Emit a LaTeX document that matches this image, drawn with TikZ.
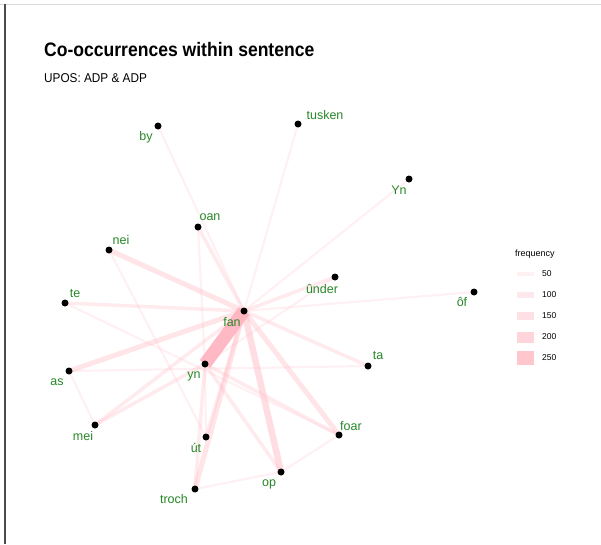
\documentclass[tikz,border=0pt]{standalone}
\usepackage{fontspec}
\setmainfont{Liberation Sans}
\usetikzlibrary{backgrounds}
\definecolor{edgepink}{RGB}{255,182,193}
\definecolor{labgreen}{RGB}{40,135,40}
\begin{document}
\begin{tikzpicture}[x=1pt,y=-1pt,
  dot/.style={circle,fill=black,inner sep=0pt,minimum size=7pt},
  lab/.style={text=labgreen,font=\fontsize{12.5}{12.5}\selectfont,inner sep=0pt},
  wa/.style={draw=edgepink,draw opacity=0.18,line width=2.2pt},
  wb/.style={draw=edgepink,draw opacity=0.27,line width=3.5pt},
  wc/.style={draw=edgepink,draw opacity=0.36,line width=5pt},
  wd/.style={draw=edgepink,draw opacity=0.45,line width=6.5pt},
  we/.style={draw=edgepink,draw opacity=0.95,line width=13pt},
  key/.style={fill=edgepink,inner sep=0pt,minimum width=17pt},
  keylab/.style={font=\fontsize{8.5}{8.5}\selectfont,anchor=west,inner sep=0pt}]
\useasboundingbox (0,0) rectangle (601,544);
% titles
\node[anchor=base west,inner sep=0pt,font=\bfseries\fontsize{19.5}{19.5}\selectfont] (title) at (44,56) {\scalebox{0.9}[1]{Co-occurrences within sentence}};
\node[anchor=base west,inner sep=0pt,font=\fontsize{12.8}{12.8}\selectfont] (subtitle) at (44,82) {\scalebox{0.92}[1]{UPOS: ADP \& ADP}};
% nodes
\node[dot] (by) at (158,126) {};
\node[dot] (tusken) at (298,124) {};
\node[dot] (Yn) at (409,179) {};
\node[dot] (oan) at (198,227) {};
\node[dot] (nei) at (109,250) {};
\node[dot] (te) at (65,303) {};
\node[dot] (under) at (335,277) {};
\node[dot] (of) at (474,292) {};
\node[dot] (fan) at (244,311) {};
\node[dot] (yn) at (205,364) {};
\node[dot] (as) at (69,371) {};
\node[dot] (ta) at (368,366) {};
\node[dot] (mei) at (95,425) {};
\node[dot] (foar) at (339,435) {};
\node[dot] (ut) at (206,437) {};
\node[dot] (op) at (281,472) {};
\node[dot] (troch) at (195,489) {};
% labels
\node[lab] (lby) at (146,137) {by};
\node[lab] (ltusken) at (325,115) {tusken};
\node[lab] (lYn) at (399,190) {Yn};
\node[lab] (loan) at (210,217) {oan};
\node[lab] (lnei) at (121,240) {nei};
\node[lab] (lte) at (75,294) {te};
\node[lab] (lunder) at (322,289) {ûnder};
\node[lab] (lof) at (462,302) {ôf};
\node[lab] (lfan) at (232,322) {fan};
\node[lab] (lyn) at (194,376) {yn};
\node[lab] (las) at (57,382) {as};
\node[lab] (lta) at (378,356) {ta};
\node[lab] (lmei) at (83,436) {mei};
\node[lab] (lfoar) at (351,426) {foar};
\node[lab] (lut) at (196,448) {út};
\node[lab] (lop) at (269,484) {op};
\node[lab] (ltroch) at (174,499) {troch};
% legend
\node[anchor=west,inner sep=0pt,font=\fontsize{9}{9}\selectfont] (legtitle) at (515,254) {frequency};
\node[key,fill opacity=0.2,minimum height=3.5pt] (k1) at (525,274) {};
\node[key,fill opacity=0.3,minimum height=6pt] (k2) at (525,295) {};
\node[key,fill opacity=0.42,minimum height=8pt] (k3) at (525,316) {};
\node[key,fill opacity=0.58,minimum height=11pt] (k4) at (525,337) {};
\node[key,fill opacity=0.78,minimum height=14pt] (k5) at (525,358) {};
\node[keylab] (t1) at (542,274) {50};
\node[keylab] (t2) at (542,295) {100};
\node[keylab] (t3) at (542,316) {150};
\node[keylab] (t4) at (542,337) {200};
\node[keylab] (t5) at (542,358) {250};
% edges and frame
\begin{scope}[on background layer]
\fill[white] (0,0) rectangle (601,544);
\draw[black!15,line width=0.8pt] (0,4) -- (601,4);
\draw[black!70,line width=1.2pt] (5,4) -- (5,544);
\draw[we] (fan.center) -- (yn.center);
\draw[wc] (fan.center) -- (nei.center);
\draw[wc] (fan.center) -- (as.center);
\draw[wc] (fan.center) -- (troch.center);
\draw[wd] (fan.center) -- (op.center);
\draw[wc] (fan.center) -- (foar.center);
\draw[wb] (fan.center) -- (mei.center);
\draw[wb] (fan.center) -- (te.center);
\draw[wb] (fan.center) -- (ta.center);
\draw[wb] (fan.center) -- (ut.center);
\draw[wb] (fan.center) -- (oan.center);
\draw[wb] (fan.center) -- (under.center);
\draw[wa] (fan.center) -- (of.center);
\draw[wa] (fan.center) -- (Yn.center);
\draw[wa] (fan.center) -- (tusken.center);
\draw[wa] (fan.center) -- (by.center);
\draw[wb] (yn.center) -- (mei.center);
\draw[wb] (yn.center) -- (troch.center);
\draw[wa] (yn.center) -- (ut.center);
\draw[wb] (yn.center) -- (op.center);
\draw[wb] (yn.center) -- (foar.center);
\draw[wa] (yn.center) -- (oan.center);
\draw[wa] (yn.center) -- (under.center);
\draw[wa] (nei.center) -- (ut.center);
\draw[wa] (te.center) -- (foar.center);
\draw[wa] (as.center) -- (mei.center);
\draw[wa] (as.center) -- (ta.center);
\draw[wa] (troch.center) -- (op.center);
\draw[wa] (op.center) -- (foar.center);
\end{scope}
\end{tikzpicture}
\end{document}
